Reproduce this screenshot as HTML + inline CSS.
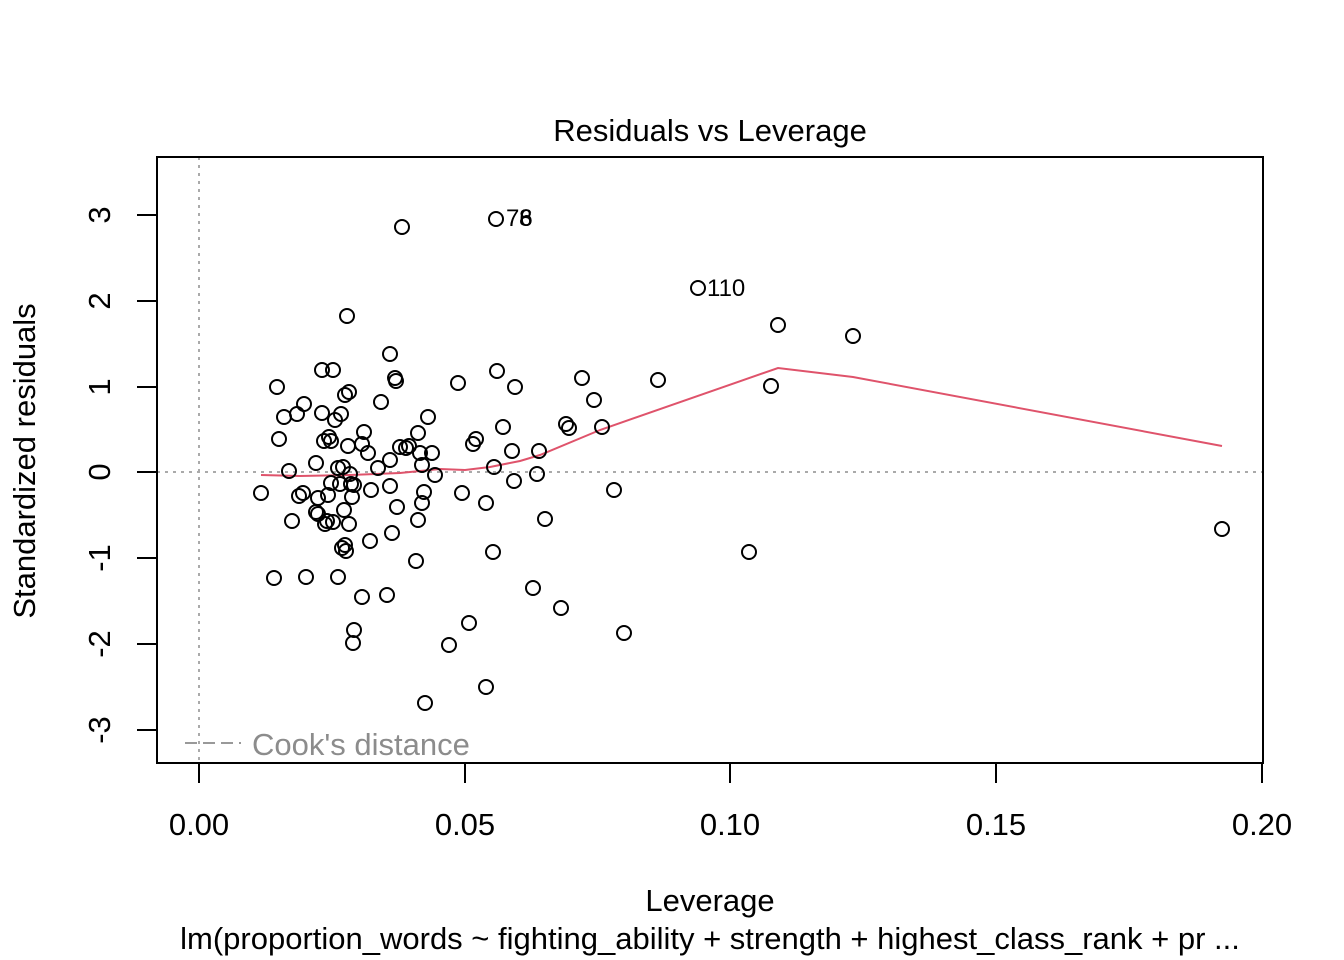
<!DOCTYPE html>
<html><head><meta charset="utf-8"><style>body{margin:0;background:#fff}svg{display:block}text{font-family:"Liberation Sans",Arial,sans-serif}</style></head><body>
<svg width="1344" height="960" viewBox="0 0 1344 960" xmlns="http://www.w3.org/2000/svg">
<rect width="1344" height="960" fill="#fff"/>
<text x="710" y="141" font-size="31" text-anchor="middle">Residuals vs Leverage</text>
<line x1="199" y1="157" x2="199" y2="763" stroke="#aaa" stroke-width="2" stroke-dasharray="3,5"/>
<line x1="157" y1="472" x2="1263" y2="472" stroke="#aaa" stroke-width="2" stroke-dasharray="3,5"/>
<rect x="157" y="157" width="1106" height="606" fill="none" stroke="#000" stroke-width="2"/>
<g stroke="#000" stroke-width="2">
<line x1="199" y1="763" x2="1262" y2="763"/>
<line x1="199" y1="763" x2="199" y2="783"/><line x1="465" y1="763" x2="465" y2="783"/><line x1="730" y1="763" x2="730" y2="783"/><line x1="996" y1="763" x2="996" y2="783"/><line x1="1262" y1="763" x2="1262" y2="783"/>
<line x1="157" y1="215" x2="157" y2="730"/>
<line x1="137" y1="215" x2="157" y2="215"/><line x1="137" y1="301" x2="157" y2="301"/><line x1="137" y1="387" x2="157" y2="387"/><line x1="137" y1="472" x2="157" y2="472"/><line x1="137" y1="558" x2="157" y2="558"/><line x1="137" y1="644" x2="157" y2="644"/><line x1="137" y1="730" x2="157" y2="730"/>
</g>
<g font-size="31" text-anchor="middle">
<text x="199" y="835">0.00</text><text x="465" y="835">0.05</text><text x="730" y="835">0.10</text><text x="996" y="835">0.15</text><text x="1262" y="835">0.20</text>
<text transform="translate(110,215) rotate(-90)">3</text>
<text transform="translate(110,301) rotate(-90)">2</text>
<text transform="translate(110,387) rotate(-90)">1</text>
<text transform="translate(110,472) rotate(-90)">0</text>
<text transform="translate(110,558) rotate(-90)">-1</text>
<text transform="translate(110,644) rotate(-90)">-2</text>
<text transform="translate(110,730) rotate(-90)">-3</text>
<text x="710" y="911">Leverage</text>
<text x="710" y="949">lm(proportion_words ~ fighting_ability + strength + highest_class_rank + pr ...</text>
<text transform="translate(35,461) rotate(-90)">Standardized residuals</text>
</g>
<line x1="185" y1="743" x2="241" y2="743" stroke="#999" stroke-width="2" stroke-dasharray="12,6"/>
<text x="252" y="755" font-size="31" fill="#8c8c8c">Cook's distance</text>
<polyline fill="none" stroke="#DF536B" stroke-width="2" points="261,475 300,476 350,475 400,473 440,469 465,470 490,467 520,461 540,455 600,430 778,368 853,377 1222,446"/>
<g fill="none" stroke="#000" stroke-width="2">
<circle cx="261" cy="493" r="7"/><circle cx="274" cy="578" r="7"/><circle cx="277" cy="387" r="7"/><circle cx="279" cy="439" r="7"/><circle cx="284" cy="417" r="7"/><circle cx="289" cy="471" r="7"/><circle cx="292" cy="521" r="7"/><circle cx="297" cy="414" r="7"/><circle cx="299" cy="496" r="7"/><circle cx="304" cy="404" r="7"/><circle cx="303" cy="493" r="7"/><circle cx="306" cy="577" r="7"/><circle cx="316" cy="463" r="7"/><circle cx="318" cy="498" r="7"/><circle cx="316" cy="512" r="7"/><circle cx="318" cy="514" r="7"/><circle cx="322" cy="370" r="7"/><circle cx="322" cy="413" r="7"/><circle cx="324" cy="441" r="7"/><circle cx="325" cy="524" r="7"/><circle cx="327" cy="521" r="7"/><circle cx="328" cy="495" r="7"/><circle cx="329" cy="437" r="7"/><circle cx="331" cy="483" r="7"/><circle cx="331" cy="441" r="7"/><circle cx="333" cy="370" r="7"/><circle cx="333" cy="522" r="7"/><circle cx="335" cy="420" r="7"/><circle cx="338" cy="577" r="7"/><circle cx="338" cy="468" r="7"/><circle cx="340" cy="484" r="7"/><circle cx="341" cy="414" r="7"/><circle cx="342" cy="548" r="7"/><circle cx="343" cy="467" r="7"/><circle cx="344" cy="510" r="7"/><circle cx="345" cy="395" r="7"/><circle cx="345" cy="545" r="7"/><circle cx="346" cy="551" r="7"/><circle cx="347" cy="316" r="7"/><circle cx="348" cy="446" r="7"/><circle cx="349" cy="392" r="7"/><circle cx="349" cy="524" r="7"/><circle cx="350" cy="474" r="7"/><circle cx="351" cy="484" r="7"/><circle cx="352" cy="497" r="7"/><circle cx="354" cy="485" r="7"/><circle cx="354" cy="630" r="7"/><circle cx="353" cy="643" r="7"/><circle cx="362" cy="597" r="7"/><circle cx="362" cy="444" r="7"/><circle cx="364" cy="432" r="7"/><circle cx="368" cy="453" r="7"/><circle cx="370" cy="541" r="7"/><circle cx="371" cy="490" r="7"/><circle cx="378" cy="468" r="7"/><circle cx="381" cy="402" r="7"/><circle cx="387" cy="595" r="7"/><circle cx="390" cy="354" r="7"/><circle cx="390" cy="460" r="7"/><circle cx="390" cy="486" r="7"/><circle cx="392" cy="533" r="7"/><circle cx="395" cy="378" r="7"/><circle cx="396" cy="381" r="7"/><circle cx="397" cy="507" r="7"/><circle cx="400" cy="447" r="7"/><circle cx="402" cy="227" r="7"/><circle cx="406" cy="448" r="7"/><circle cx="409" cy="446" r="7"/><circle cx="416" cy="561" r="7"/><circle cx="418" cy="433" r="7"/><circle cx="418" cy="520" r="7"/><circle cx="420" cy="453" r="7"/><circle cx="422" cy="465" r="7"/><circle cx="422" cy="503" r="7"/><circle cx="424" cy="492" r="7"/><circle cx="425" cy="703" r="7"/><circle cx="428" cy="417" r="7"/><circle cx="432" cy="453" r="7"/><circle cx="435" cy="475" r="7"/><circle cx="449" cy="645" r="7"/><circle cx="458" cy="383" r="7"/><circle cx="462" cy="493" r="7"/><circle cx="469" cy="623" r="7"/><circle cx="473" cy="444" r="7"/><circle cx="476" cy="439" r="7"/><circle cx="486" cy="687" r="7"/><circle cx="486" cy="503" r="7"/><circle cx="493" cy="552" r="7"/><circle cx="494" cy="467" r="7"/><circle cx="496" cy="219" r="7"/><circle cx="497" cy="371" r="7"/><circle cx="503" cy="427" r="7"/><circle cx="512" cy="451" r="7"/><circle cx="515" cy="387" r="7"/><circle cx="514" cy="481" r="7"/><circle cx="533" cy="588" r="7"/><circle cx="537" cy="474" r="7"/><circle cx="539" cy="451" r="7"/><circle cx="545" cy="519" r="7"/><circle cx="561" cy="608" r="7"/><circle cx="566" cy="424" r="7"/><circle cx="569" cy="428" r="7"/><circle cx="582" cy="378" r="7"/><circle cx="594" cy="400" r="7"/><circle cx="602" cy="427" r="7"/><circle cx="614" cy="490" r="7"/><circle cx="624" cy="633" r="7"/><circle cx="658" cy="380" r="7"/><circle cx="698" cy="288" r="7"/><circle cx="749" cy="552" r="7"/><circle cx="771" cy="386" r="7"/><circle cx="778" cy="325" r="7"/><circle cx="853" cy="336" r="7"/><circle cx="1222" cy="529" r="7"/>
</g>
<text x="506" y="226" font-size="24">76</text>
<text x="519" y="226" font-size="24">8</text>
<text x="707" y="296" font-size="24">110</text>
</svg>
</body></html>
